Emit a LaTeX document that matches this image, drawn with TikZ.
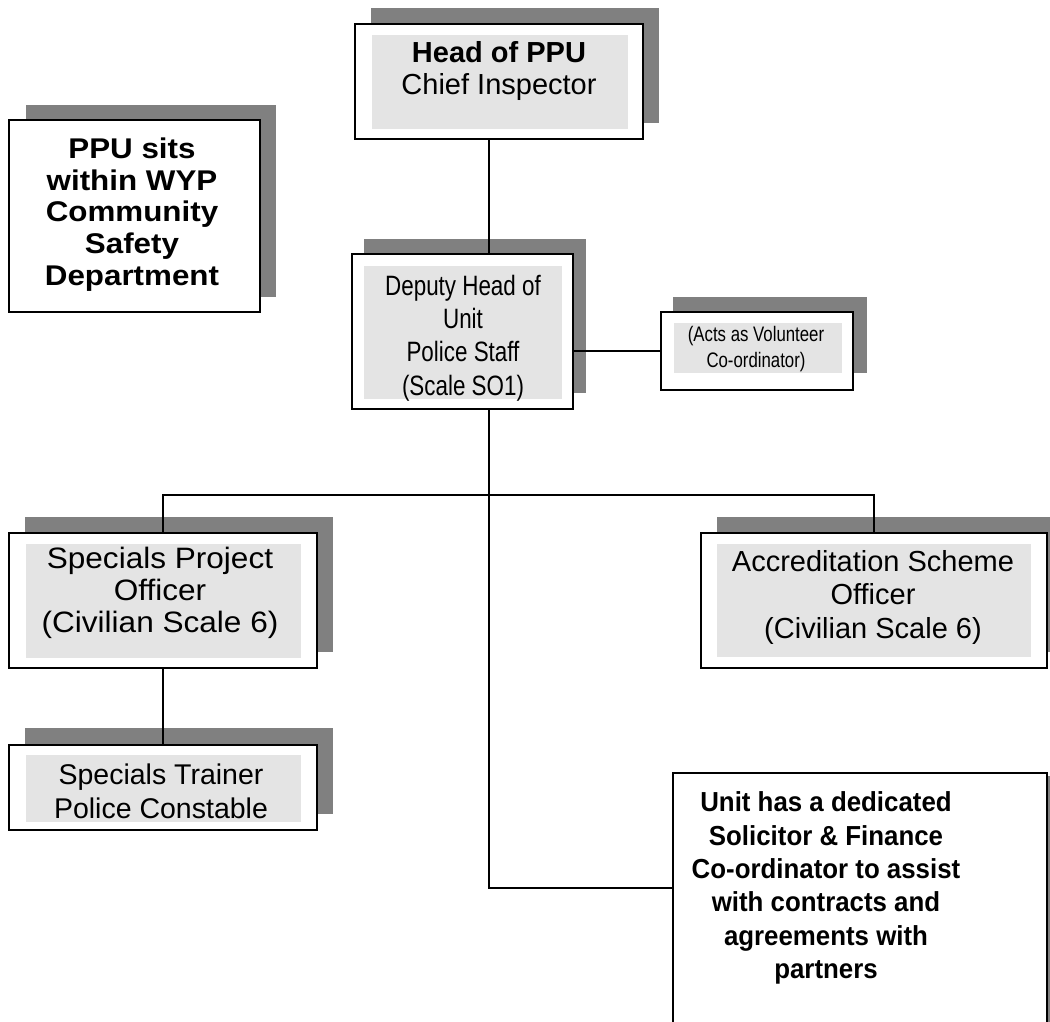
\documentclass[tikz,border=0pt]{standalone}
\usepackage{fontspec}
\setmainfont{Liberation Sans}
\newfontfamily\narrowfont[FakeStretch=0.8]{Liberation Sans}
\newfontfamily\solfont[FakeStretch=0.94]{Liberation Sans}
\newfontfamily\widefont[FakeStretch=1.07]{Liberation Sans}
\newfontfamily\ppufont[FakeStretch=1.1]{Liberation Sans}
\definecolor{shadowc}{RGB}{128,128,128}
\definecolor{innerc}{RGB}{228,228,228}
\newcommand\orgbox[5]{\node[boxst, minimum width={(#4-#2)*1pt}, minimum height={(#5-#3)*1pt}] (#1) at ({(#2+#4)/2},{(#3+#5)/2}) {};}
\begin{document}
\begin{tikzpicture}[x=1pt,y=-1pt,
  boxst/.style={draw=black, line width=1.8pt, fill=white, inner sep=0pt, outer sep=0pt, rectangle},
  conn/.style={line width=1.5pt, black},
  txt/.style={align=center, inner sep=0pt, text=black}]
\useasboundingbox (0,0) rectangle (1050,1022);
\clip (0,0) rectangle (1050,1022);
% shadows
\fill[shadowc] (371,8) rectangle (659,123);
\fill[shadowc] (26,105) rectangle (276,297);
\fill[shadowc] (364,239) rectangle (586,393);
\fill[shadowc] (673,297) rectangle (867,373);
\fill[shadowc] (25,517) rectangle (333,652);
\fill[shadowc] (25,728) rectangle (333,814);
\fill[shadowc] (717,517) rectangle (1063,652);
\fill[shadowc] (689,776) rectangle (1063,1040);
% boxes
\orgbox{head}{355}{24}{643}{139}
\orgbox{ppu}{9}{120}{260}{312}
\orgbox{deputy}{352}{254}{573}{409}
\orgbox{vol}{661}{312}{853}{390}
\orgbox{spec}{9}{533}{317}{668}
\orgbox{trainer}{9}{745}{317}{830}
\orgbox{accr}{701}{533}{1047}{668}
\orgbox{sol}{673}{773}{1047}{1040}
% inner panels
\fill[innerc] (372,35) rectangle (628,129);
\fill[innerc] (364,266) rectangle (562,399);
\fill[innerc] (674,323) rectangle (842,373);
\fill[innerc] (26,544) rectangle (301,658);
\fill[innerc] (26,755) rectangle (301,822);
\fill[innerc] (717,544) rectangle (1031,657);
% texts
\node[txt, font=\fontsize{29}{31.5}\selectfont] (headt) at (499,71) {\textbf{Head of PPU}\\Chief Inspector};
\node[txt, font=\ppufont\fontsize{28.5}{31.7}\selectfont\bfseries] (ppút) at (132,214.5) {PPU sits\\within WYP\\Community\\Safety\\Department};
\node[txt, font=\narrowfont\fontsize{28}{33.3}\selectfont] (deputyt) at (463,338) {Deputy Head of\\Unit\\Police Staff\\(Scale SO1)};
\node[txt, font=\narrowfont\fontsize{21}{26.5}\selectfont] (volt) at (756,349) {(Acts as Volunteer\\Co-ordinator)};
\node[txt, font=\widefont\fontsize{29.5}{32}\selectfont] (spect) at (160,593) {Specials Project\\Officer\\(Civilian Scale 6)};
\node[txt, font=\fontsize{28.5}{34}\selectfont] (trainert) at (161,791) {Specials Trainer\\Police Constable};
\node[txt, font=\fontsize{29}{33.5}\selectfont] (accrt) at (873,597) {Accreditation Scheme\\Officer\\(Civilian Scale 6)};
\node[txt, font=\solfont\fontsize{27.5}{33.3}\selectfont\bfseries] (solt) at (826,888) {Unit has a dedicated\\Solicitor \& Finance\\Co-ordinator to assist\\with contracts and\\agreements with\\partners};
% connectors
\coordinate (spine) at (489,0);
\coordinate (branch) at (489,495);
\coordinate (solrow) at (0,888);
\draw[conn] (spine |- head.south) -- (spine |- deputy.north);
\draw[conn] (spine |- deputy.south) -- (spine |- solrow) -- (sol.west |- solrow);
\draw[conn] (spec.north) |- (branch) -| (accr.north);
\draw[conn] (spec.south) -- (trainer.north);
\draw[conn] (vol.west) -- (vol.west -| deputy.east);
\end{tikzpicture}
\end{document}
